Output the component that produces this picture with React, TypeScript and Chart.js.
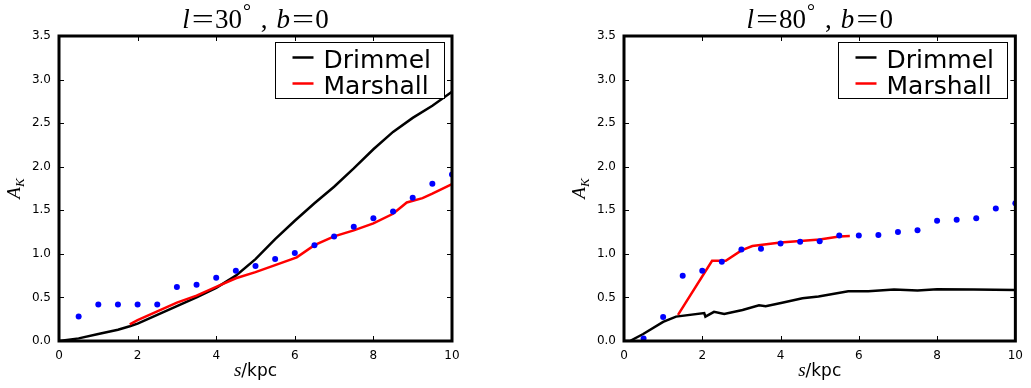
import React, { useEffect, useRef } from 'react';
import { Chart, registerables } from 'chart.js';

Chart.register(...registerables);

// ---------- data ----------
const dotS = [0.5, 1, 1.5, 2, 2.5, 3, 3.5, 4, 4.5, 5, 5.5, 6, 6.5, 7, 7.5, 8, 8.5, 9, 9.5, 10];

const leftDotsA = [0.28, 0.42, 0.42, 0.42, 0.42, 0.62, 0.645, 0.725, 0.805, 0.86, 0.94, 1.01, 1.1, 1.2, 1.31, 1.41, 1.485, 1.645, 1.805, 1.91];
const leftDrimmelS = [0, 0.5, 1, 1.5, 1.8, 2, 2.5, 3, 3.5, 4, 4.5, 5, 5.5, 6, 6.5, 7, 7.5, 8, 8.5, 9, 9.5, 10];
const leftDrimmelA = [0, 0.03, 0.08, 0.13, 0.17, 0.2, 0.3, 0.4, 0.5, 0.61, 0.75, 0.94, 1.17, 1.38, 1.58, 1.77, 1.98, 2.2, 2.4, 2.56, 2.7, 2.86];
const leftMarshallS = [1.8, 2, 2.5, 3, 3.5, 4, 4.5, 5, 5.5, 6.05, 6.5, 7, 7.5, 8, 8.5, 8.85, 9.25, 9.5, 10];
const leftMarshallA = [0.19, 0.24, 0.34, 0.44, 0.52, 0.62, 0.72, 0.79, 0.87, 0.96, 1.1, 1.2, 1.27, 1.35, 1.46, 1.59, 1.64, 1.69, 1.8];

const rightDotsA = [0.03, 0.275, 0.75, 0.805, 0.91, 1.05, 1.06, 1.12, 1.14, 1.145, 1.21, 1.21, 1.215, 1.25, 1.27, 1.38, 1.39, 1.41, 1.52, 1.58];
const rightDrimmelS = [0, 0.15, 0.49, 1.0, 1.33, 2.05, 2.08, 2.3, 2.56, 3.03, 3.45, 3.62, 4.04, 4.56, 4.97, 5.73, 6.24, 6.9, 7.5, 8.0, 8.94, 10];
const rightDrimmelA = [0, 0, 0.08, 0.22, 0.28, 0.32, 0.28, 0.335, 0.31, 0.355, 0.41, 0.4, 0.44, 0.49, 0.51, 0.57, 0.57, 0.59, 0.58, 0.595, 0.59, 0.585];
const rightMarshallS = [1.38, 2.25, 2.6, 3.0, 3.28, 4, 5, 5.5, 5.77];
const rightMarshallA = [0.3, 0.92, 0.92, 1.04, 1.09, 1.13, 1.165, 1.2, 1.205];

const xTicks = [0, 2, 4, 6, 8, 10];
const yTicks = [0, 0.5, 1, 1.5, 2, 2.5, 3, 3.5];
const legendLabels = ['Drimmel', 'Marshall'];
const legendColors = ['#000000', '#ff0000'];
const titleLongitudes = ['30', '80'];

const pts = (xs: number[], ys: number[]) => xs.map((x, i) => ({ x, y: ys[i] }));

const SERIF = '"Liberation Serif", "Times New Roman", serif';
const SANS = '"DejaVu Sans", sans-serif';

function drawTitle(ctx: CanvasRenderingContext2D, cx: number, baseline: number, lon: string) {
  type P = { t: string; font: string; gapBefore: number; sx?: number; dy?: number };
  const it = `italic 27px ${SERIF}`;
  const ro = `27px ${SERIF}`;
  const pieces: P[] = [
    { t: 'l', font: it, gapBefore: 0 },
    { t: '=', font: ro, gapBefore: 2, sx: 1.45 },
    { t: lon, font: ro, gapBefore: 1 },
    { t: '°', font: `20px ${SERIF}`, gapBefore: 1, dy: -10 },
    { t: ',', font: ro, gapBefore: 10 },
    { t: 'b', font: it, gapBefore: 9 },
    { t: '=', font: ro, gapBefore: 2, sx: 1.45 },
    { t: '0', font: ro, gapBefore: 1 },
  ];
  const widths = pieces.map((p) => {
    ctx.font = p.font;
    return ctx.measureText(p.t).width * (p.sx || 1);
  });
  const total = pieces.reduce((s, p, i) => s + p.gapBefore + widths[i], 0);
  let x = cx - total / 2;
  ctx.fillStyle = '#000';
  ctx.textAlign = 'left';
  ctx.textBaseline = 'alphabetic';
  pieces.forEach((p, i) => {
    x += p.gapBefore;
    ctx.font = p.font;
    ctx.save();
    ctx.translate(x, baseline + (p.dy || 0));
    ctx.scale(p.sx || 1, 1);
    ctx.fillText(p.t, 0, 0);
    ctx.restore();
    x += widths[i];
  });
}

function makeDecor(lon: string) {
  return {
    id: 'decor',
    afterDatasetsDraw(chart: any) {
      const ctx: CanvasRenderingContext2D = chart.ctx;
      const { left, right, top, bottom } = chart.chartArea;
      const xs = chart.scales.x;
      const ys = chart.scales.y;
      ctx.save();
      // ticks inside on all sides
      ctx.strokeStyle = '#000';
      ctx.lineWidth = 1;
      const tl = 5;
      xTicks.forEach((v) => {
        const px = Math.round(xs.getPixelForValue(v)) + 0.5;
        ctx.beginPath();
        ctx.moveTo(px, bottom);
        ctx.lineTo(px, bottom - tl);
        ctx.moveTo(px, top);
        ctx.lineTo(px, top + tl);
        ctx.stroke();
      });
      yTicks.forEach((v) => {
        const py = Math.round(ys.getPixelForValue(v)) + 0.5;
        ctx.beginPath();
        ctx.moveTo(left, py);
        ctx.lineTo(left + tl, py);
        ctx.moveTo(right, py);
        ctx.lineTo(right - tl, py);
        ctx.stroke();
      });
      // frame
      ctx.lineWidth = 3;
      ctx.strokeRect(left, top, right - left, bottom - top);

      // legend
      const lw = 169;
      const lh = 56;
      const lx = Math.round(right - 8 - lw) + 0.5;
      const ly = Math.round(top + 6) + 0.5;
      ctx.fillStyle = '#fff';
      ctx.fillRect(lx, ly, lw, lh);
      ctx.lineWidth = 1;
      ctx.strokeStyle = '#000';
      ctx.strokeRect(lx, ly, lw, lh);
      ctx.font = `25px ${SANS}`;
      ctx.textAlign = 'left';
      ctx.textBaseline = 'alphabetic';
      legendLabels.forEach((lab, i) => {
        const yy = ly + 15 + i * 26;
        ctx.strokeStyle = legendColors[i];
        ctx.lineWidth = 2.5;
        ctx.beginPath();
        ctx.moveTo(lx + 17, yy);
        ctx.lineTo(lx + 38, yy);
        ctx.stroke();
        ctx.fillStyle = '#000';
        ctx.fillText(lab, lx + 48, yy + 10);
      });
      ctx.restore();
    },
    afterDraw(chart: any) {
      const ctx: CanvasRenderingContext2D = chart.ctx;
      const { left, right, top, bottom } = chart.chartArea;
      ctx.save();
      const cx = (left + right) / 2;
      drawTitle(ctx, cx, 28, lon);

      // x-axis label: s/kpc
      ctx.fillStyle = '#000';
      ctx.textBaseline = 'alphabetic';
      ctx.textAlign = 'left';
      const f1 = `italic 19px ${SERIF}`;
      const f2 = `17px ${SANS}`;
      ctx.font = f1;
      const w1 = ctx.measureText('s').width;
      ctx.font = f2;
      const w2 = ctx.measureText('/kpc').width;
      const sx = cx - (w1 + w2) / 2;
      ctx.font = f1;
      ctx.fillText('s', sx, 376);
      ctx.font = f2;
      ctx.fillText('/kpc', sx + w1, 376);

      // y-axis label: A_K
      const cy = (top + bottom) / 2;
      const axisX = left - 39;
      ctx.translate(axisX, cy);
      ctx.rotate(-Math.PI / 2);
      const fa = `italic 19px ${SERIF}`;
      const fk = `italic 13px ${SERIF}`;
      ctx.font = fa;
      const wa = ctx.measureText('A').width;
      ctx.font = fk;
      const wk = ctx.measureText('K').width;
      const start = -(wa + wk) / 2;
      ctx.font = fa;
      ctx.fillText('A', start, 0);
      ctx.font = fk;
      ctx.fillText('K', start + wa, 4);
      ctx.restore();
    },
  };
}

function makeConfig(dotsA: number[], dS: number[], dA: number[], mS: number[], mA: number[], lon: string, yAxisW: number, padRight: number) {
  return {
    type: 'scatter' as const,
    data: {
      datasets: [
        {
          label: 'data',
          data: pts(dotS, dotsA),
          showLine: false,
          pointRadius: 3,
          pointBorderWidth: 0,
          pointBackgroundColor: '#0000ff',
          backgroundColor: '#0000ff',
          borderColor: '#0000ff',
        },
        {
          label: legendLabels[1],
          data: pts(mS, mA),
          showLine: true,
          pointRadius: 0,
          borderColor: legendColors[1],
          borderWidth: 2.5,
          tension: 0,
        },
        {
          label: legendLabels[0],
          data: pts(dS, dA),
          showLine: true,
          pointRadius: 0,
          borderColor: legendColors[0],
          borderWidth: 2.5,
          tension: 0,
        },
      ],
    },
    options: {
      responsive: false,
      animation: false as const,
      layout: { padding: { top: 36, left: 0, right: padRight, bottom: 0 } },
      plugins: { legend: { display: false }, tooltip: { enabled: false }, title: { display: false } },
      scales: {
        x: {
          type: 'linear' as const,
          min: 0,
          max: 10,
          grid: { display: false, drawTicks: false },
          border: { display: false },
          ticks: { stepSize: 2, color: '#000', font: { family: 'DejaVu Sans', size: 12 }, padding: 8, maxRotation: 0 },
          afterFit: (s: any) => {
            s.height = 47;
          },
        },
        y: {
          type: 'linear' as const,
          min: 0,
          max: 3.5,
          grid: { display: false, drawTicks: false },
          border: { display: false },
          ticks: {
            stepSize: 0.5,
            color: '#000',
            font: { family: 'DejaVu Sans', size: 12 },
            padding: 8,
            callback: (v: any) => Number(v).toFixed(1),
          },
          afterFit: (s: any) => {
            s.width = yAxisW;
          },
        },
      },
    },
    plugins: [makeDecor(lon)],
  };
}

function Panel({ cfg, width, left }: { cfg: any; width: number; left: number }) {
  const ref = useRef<HTMLCanvasElement>(null);
  useEffect(() => {
    if (!ref.current) return;
    const chart = new Chart(ref.current, cfg);
    return () => chart.destroy();
  }, [cfg]);
  return (
    <canvas
      ref={ref}
      width={width}
      height={388}
      style={{ position: 'absolute', left, top: 0, width, height: 388 }}
    />
  );
}

const leftCfg = makeConfig(leftDotsA, leftDrimmelS, leftDrimmelA, leftMarshallS, leftMarshallA, titleLongitudes[0], 59, 63);
const rightCfg = makeConfig(rightDotsA, rightDrimmelS, rightDrimmelA, rightMarshallS, rightMarshallA, titleLongitudes[1], 109, 12);

export default function App() {
  return (
    <div style={{ position: 'absolute', left: 0, top: 0, width: 1031, height: 388, background: '#fff', overflow: 'hidden' }}>
      <Panel cfg={leftCfg} width={515} left={0} />
      <Panel cfg={rightCfg} width={516} left={515} />
    </div>
  );
}
